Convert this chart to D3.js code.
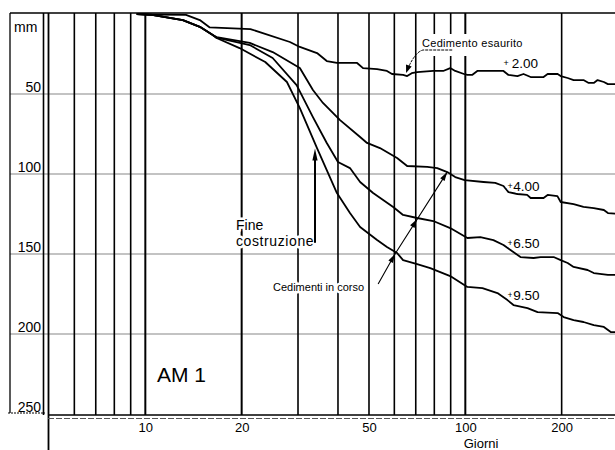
<!DOCTYPE html>
<html>
<head>
<meta charset="utf-8">
<script src="https://cdn.jsdelivr.net/npm/d3@7"></script>
<style>
  body { margin: 0; background: #fff; }
  svg { display: block; }
  text { font-family: "Liberation Sans", Arial, Helvetica, sans-serif; fill: #000; }
</style>
</head>
<body>
<div id="chart"></div>
<script>
// giorni (scala log) e cedimenti in mm
const dayLines = [6, 7, 8, 9, 10, 20, 30, 40, 50, 60, 70, 80, 90, 100, 200];
const dayLabels = [10, 20, 50, 100, 200];
const mmGrid = [50, 100, 150, 200];
const mmLabels = [50, 100, 150, 200, 250];
const curveNames = ["+2.00", "+4.00", "+6.50", "+9.50"];

const serie200 = [[9.4,0],[10.5,0.3],[13.4,0.6],[14.8,3.8],[15.9,8.4],[21.3,9.4],[28.3,17.5],[30.4,20.6],[34.4,24.4],[36.9,29.4],[39.7,30.6],[45.9,30.6],[47.9,33.8],[53,34.4],[56.9,35.6],[59,37.5],[63.9,38.1],[65.8,38.8],[68,37],[70.7,36.3],[79.4,35.6],[85.3,35.6],[89.7,33.8],[93,35.6],[99,37.5],[101.5,38.1],[105,38.1],[109,35.6],[131.6,35.6],[136.4,38.1],[145.5,38.8],[152,37.5],[160,39.4],[175.6,39.4],[180.8,37.5],[194.3,37.5],[198.6,38.8],[208.8,40],[218,41.3],[234,41.3],[243,43.1],[252,43.1],[259,41.3],[271,42.5],[279,43.8],[300,43.8]];

const serie400 = [[9.4,0],[10.5,0.5],[13.1,3.8],[14.8,8],[16.2,13],[16.7,14.4],[21.2,18.1],[25,23.8],[30.4,33.8],[33.4,47.5],[35.9,55.6],[40.6,66.3],[46.9,76.9],[49.3,80.6],[54.1,83.8],[61.2,90],[65.8,95],[76,95.6],[81.7,96.3],[87.8,98.8],[93,101.9],[99.5,103.8],[114,105],[124,105.6],[131.6,107.5],[136.4,111.3],[145.5,112.5],[156,113],[160,115],[175.6,115],[180.8,113.1],[194,113.8],[198.6,117.5],[218,118.8],[234,120.6],[252,121.3],[271,122.5],[279,124.4],[300,125]];

const serie650 = [[9.4,0],[10.5,0.5],[13.1,3.8],[14.8,8],[16.2,13],[16.7,14.8],[21.2,19.4],[25,27.5],[29.7,44.4],[33.4,64.4],[36.9,80.6],[40,92.5],[43.6,96.3],[46.9,105],[51.5,111.9],[59.5,120.6],[63.9,125.6],[70.7,127.5],[79.4,129.4],[89.7,133.8],[101.5,140],[111.4,139.4],[122.4,141.3],[131.6,144.4],[138.4,147.5],[148.7,151.9],[163.4,152.5],[171.9,151.9],[188.8,151.9],[198.6,153.8],[208.8,155.6],[218,158.1],[241,160],[252,161.9],[279,163.1],[300,163.1]];

const serie950 = [[9.4,0],[10.5,0.5],[13.1,3.8],[14.8,8],[16.2,13],[16.7,15],[19.7,21.3],[23.7,30],[27.7,42.5],[30.4,58.8],[34.4,83.8],[39.7,111.9],[43.6,124.4],[46.9,133.1],[53,141.3],[56.9,145.6],[61.2,149.4],[63.9,153.8],[70.7,156.3],[77.7,158.8],[89.7,163.8],[101.5,170.6],[113.1,171.3],[126,174.4],[135.4,178.8],[141.4,181.9],[156.4,183.8],[168.2,186.3],[194.3,186.9],[202.9,189.4],[218,191.3],[234,192.5],[252,194.4],[271,195.6],[284.8,198.8],[300,198.8]];

const series = [serie200, serie400, serie650, serie950];

const width = 615, height = 450;
const svg = d3.select("#chart").append("svg")
  .attr("width", width)
  .attr("height", height);

const x = d3.scaleLog().domain([5, 300]).range([49, 618]);
const y = d3.scaleLinear().domain([0, 250]).range([14, 414]);

// griglia orizzontale
svg.append("g").selectAll("line")
  .data(mmGrid)
  .enter().append("line")
  .attr("x1", 10).attr("x2", width)
  .attr("y1", d => y(d)).attr("y2", d => y(d))
  .attr("stroke", "#888").attr("stroke-width", 1.2);

// linee verticali dei giorni
svg.append("g").selectAll("line")
  .data(dayLines)
  .enter().append("line")
  .attr("x1", d => x(d)).attr("x2", d => x(d))
  .attr("y1", y(0) - 1).attr("y2", y(250) + 1)
  .attr("stroke", "#000")
  .attr("stroke-width", d => (d === 10 || d === 20 || d === 100) ? 2 : 1.6);

// cornice
const frame = svg.append("g").attr("stroke", "#000").attr("fill", "none");
frame.append("line").attr("x1", 10).attr("x2", width).attr("y1", 13).attr("y2", 13).attr("stroke-width", 1.3);
frame.append("line").attr("x1", 10).attr("x2", 10).attr("y1", 13).attr("y2", 413).attr("stroke-width", 1.3);
frame.append("line").attr("x1", 43.5).attr("x2", 43.5).attr("y1", 13).attr("y2", 415).attr("stroke-width", 1.6);
frame.append("line").attr("x1", 8).attr("x2", 45).attr("y1", 413).attr("y2", 413).attr("stroke-width", 1).attr("stroke-dasharray", "2,1");
frame.append("line").attr("x1", 48.5).attr("x2", 48.5).attr("y1", 13).attr("y2", height).attr("stroke-width", 1.8);
frame.append("line").attr("x1", 48).attr("x2", width).attr("y1", 415).attr("y2", 415).attr("stroke-width", 1.6);
frame.append("line").attr("x1", 48).attr("x2", width).attr("y1", 418.5).attr("y2", 418.5)
  .attr("stroke", "#555").attr("stroke-width", 1).attr("stroke-dasharray", "6,2");

// curve
const line = d3.line().x(d => x(d[0])).y(d => y(d[1]));
svg.append("g").selectAll("path")
  .data(series)
  .enter().append("path")
  .attr("d", line)
  .attr("fill", "none")
  .attr("stroke", "#000")
  .attr("stroke-width", 1.8)
  .attr("stroke-linejoin", "round");

// asse y (etichette nel riquadro a sinistra)
const yAxis = svg.append("g")
  .attr("transform", "translate(41,0)")
  .call(d3.axisLeft(y).tickValues(mmLabels).tickSize(0).tickPadding(0));
yAxis.select(".domain").remove();
yAxis.selectAll("text")
  .attr("dy", "-0.2em")
  .style("font-size", "14px")
  .style("font-family", "'Liberation Sans', Arial, sans-serif");

svg.append("text").attr("x", 14).attr("y", 32).style("font-size", "14px").text("mm");

// asse x
const xAxis = svg.append("g")
  .attr("transform", "translate(0,415)")
  .call(d3.axisBottom(x).tickValues(dayLabels).tickFormat(d3.format("d")).tickSize(0).tickPadding(8));
xAxis.select(".domain").remove();
xAxis.selectAll("text")
  .style("font-size", "13px")
  .style("font-family", "'Liberation Sans', Arial, sans-serif");

svg.append("text").attr("x", 481).attr("y", 448)
  .attr("text-anchor", "middle").style("font-size", "13px").text("Giorni");

// etichette con alone bianco
function label(tx, ty, str, size, anchor) {
  return svg.append("text")
    .attr("x", tx).attr("y", ty)
    .attr("text-anchor", anchor || "start")
    .style("font-size", size + "px")
    .attr("stroke", "#fff").attr("stroke-width", 5)
    .attr("paint-order", "stroke")
    .attr("stroke-linejoin", "round")
    .text(str);
}

// etichette delle quote
const quotaAt = [[131.6, 33.8], [135.4, 110.6], [135.4, 146.3], [135.4, 178.8]];
curveNames.forEach((n, i) => {
  const t = svg.append("text")
    .attr("x", x(quotaAt[i][0])).attr("y", y(quotaAt[i][1]))
    .attr("stroke", "#fff").attr("stroke-width", 4).attr("paint-order", "stroke");
  t.append("tspan").style("font-size", "9px").attr("dy", "-2").text("+");
  t.append("tspan").style("font-size", "13.5px").attr("dy", "2").attr("dx", i === 0 ? 3 : 0.5).text(n.slice(1));
});

label(157, 382, "AM 1", 21);
label(236, 230, "Fine", 14);
label(236, 246, "costruzione", 14).style("letter-spacing", "0.6px");

function arrowHead(tip, from, len, half) {
  const a = Math.atan2(tip[1] - from[1], tip[0] - from[0]);
  const bx = tip[0] - len * Math.cos(a), by = tip[1] - len * Math.sin(a);
  const px = -Math.sin(a) * half, py = Math.cos(a) * half;
  svg.append("path")
    .attr("d", `M${tip[0]},${tip[1]}L${bx + px},${by + py}L${bx - px},${by - py}Z`)
    .attr("fill", "#000");
}

// freccia "Fine costruzione"
const fineDay = 33.9;
svg.append("line")
  .attr("x1", x(fineDay)).attr("x2", x(fineDay))
  .attr("y1", y(143)).attr("y2", y(88))
  .attr("stroke", "#000").attr("stroke-width", 2);
arrowHead([x(fineDay), y(84)], [x(fineDay), y(100)], 12, 2.6);

// "Cedimento esaurito"
svg.append("rect").attr("x", 418).attr("y", 34).attr("width", 110).attr("height", 13).attr("fill", "#fff");
svg.append("rect").attr("x", 428).attr("y", 47).attr("width", 40).attr("height", 9).attr("fill", "#fff");
svg.append("text").attr("x", 422).attr("y", 47)
  .style("font-size", "11px").style("letter-spacing", "0.3px").text("Cedimento esaurito");
const esP = [[91, 22.5], [73.8, 22.5], [65.3, 36.9]];
svg.append("path")
  .attr("d", `M${x(esP[0][0])},${y(esP[0][1])}L${x(esP[1][0])},${y(esP[1][1])}Q${x(70)},${y(23.5)} ${x(66.5)},${y(33)}`)
  .attr("fill", "none").attr("stroke", "#000").attr("stroke-width", 1)
  .attr("stroke-dasharray", "3,1");
arrowHead([x(esP[2][0]), y(esP[2][1])], [x(67.5), y(29)], 8, 3);

// "Cedimenti in corso"
label(273, 291, "Cedimenti in corso", 11);
const corsoP = [[53.4, 168.8], [60.3, 150], [87.8, 98.8]];
svg.append("path")
  .attr("d", d3.line().x(d => x(d[0])).y(d => y(d[1]))(corsoP))
  .attr("fill", "none").attr("stroke", "#000").attr("stroke-width", 1.1);
arrowHead([x(60.3), y(150)], [x(53.4), y(168.8)], 9, 2.6);
arrowHead([x(70.7), y(128.2)], [x(60.3), y(150)], 9, 2.6);
arrowHead([x(87.8), y(98.8)], [x(70.7), y(128.2)], 9, 2.6);
</script>
</body>
</html>
